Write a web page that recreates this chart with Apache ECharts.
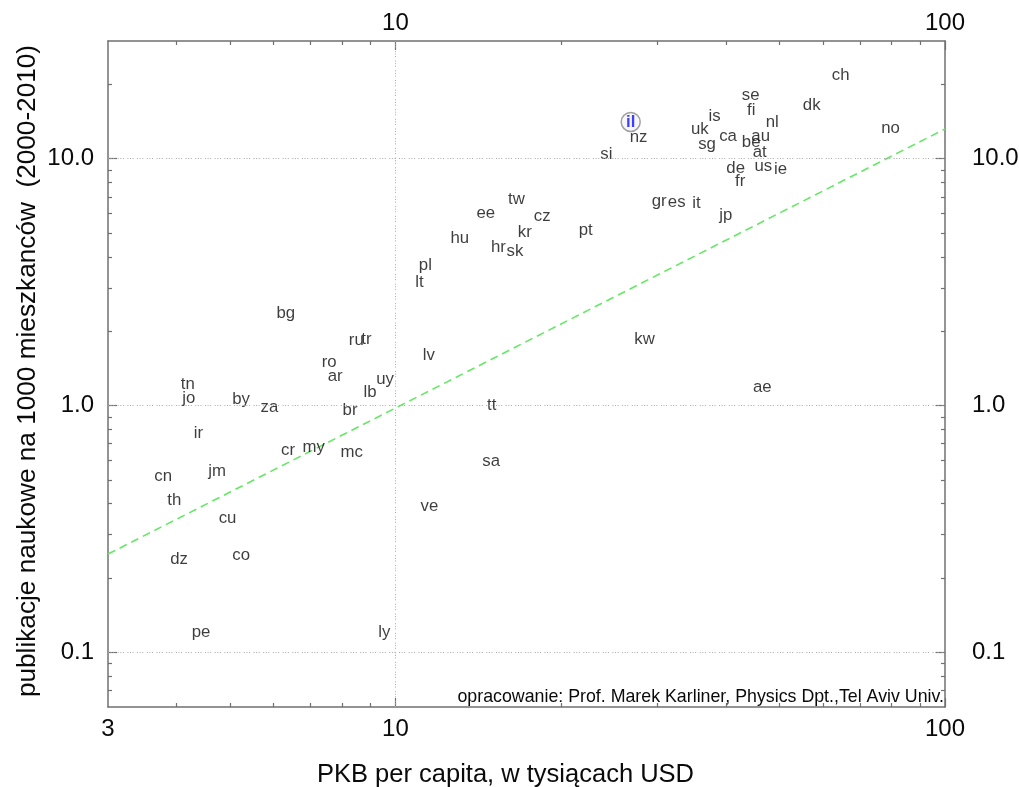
<!DOCTYPE html>
<html><head><meta charset="utf-8">
<script src="https://cdn.jsdelivr.net/npm/echarts@6/dist/echarts.min.js"></script>
<style>html,body{margin:0;padding:0;background:#fff}#c{width:1019px;height:787px}</style>
</head><body><div id="c"></div>
<script>
// ---- data ----
const countries = ['ch','se','fi','dk','is','nl','no','uk','ca','au','be','nz','sg','at','si','de','us','ie','fr','gr','es','it','jp','tw','cz','kr','pt','sk','ee','hu','hr','pl','lt','bg','ru','tr','lv','ro','ar','uy','lb','tn','jo','by','za','br','tt','ir','cr','my','mc','sa','cn','jm','th','ve','cu','dz','co','pe','ly','kw','ae'];
const gdp  = [64.6,44.3,44.4,57.2,38.1,48.5,79.6,35.8,40.3,46.2,44.4,27.7,36.9,46.0,24.2,41.6,46.7,50.2,42.4,30.2,32.5,35.3,39.9,16.6,18.5,17.2,22.2,16.5,14.6,13.1,15.4,11.34,11.06,6.32,8.49,8.86,11.5,7.58,7.77,9.58,8.99,4.19,4.21,5.24,5.90,8.27,14.97,4.38,6.38,7.10,8.33,14.94,3.78,4.74,3.96,11.53,4.95,4.04,5.24,4.43,9.55,28.4,46.5];
const pubs = [21.7,18.1,15.7,16.5,14.8,14.1,13.3,13.2,12.3,12.3,11.7,12.2,11.4,10.6,10.4,9.15,9.3,9.03,8.11,6.69,6.65,6.61,5.89,6.82,5.82,5.01,5.11,4.21,6.0,4.77,4.37,3.69,3.16,2.37,1.84,1.85,1.60,1.49,1.31,1.28,1.13,1.22,1.07,1.06,0.987,0.957,1.0,0.77,0.66,0.677,0.643,0.592,0.518,0.539,0.414,0.389,0.349,0.239,0.248,0.120,0.120,1.85,1.18];
const highlightCountry = ['il'];
const highlightGdp = [26.8];
const highlightPubs = [14.1];
const trendGdp = [3, 100];
const trendPubs = [0.25, 13.2];
// axes
const xRange = [3, 100];
const yRange = [0.06, 30];
const xLabelsBottom = [3, 10, 100];
const xLabelsTop = [10, 100];
const xMajorTicks = [10, 100];
const xMinorTicks = [4,5,6,7,8,9,20,30,40,50,60,70,80,90];
const yLabels = [0.1, 1, 10];
const yMajorTicks = [0.1, 1, 10];
const yMinorTicks = [0.07,0.08,0.09,0.2,0.3,0.4,0.5,0.6,0.7,0.8,0.9,2,3,4,5,6,7,8,9,20];
const gridX = [10];
const gridY = [0.1, 1, 10];
const xTitle = 'PKB per capita, w tysiącach USD';
const yTitle = 'publikacje naukowe na 1000 mieszkanców  (2000-2010)';
const credit = 'opracowanie: Prof. Marek Karliner, Physics Dpt.,Tel Aviv Univ.';

const FONT = '"Liberation Sans", Arial, Helvetica, sans-serif';
const AXC = '#707070';

function axis(pos, range, ticks, tickLen, labels, showLine, fmt, margin, extra) {
  const a = {
    type: 'log', logBase: 10, position: pos, min: range[0], max: range[1],
    nameMoveOverlap: false,
    axisLine: { show: showLine, onZero: false, lineStyle: { color: AXC, width: 1.5 } },
    axisTick: { show: true, inside: true, length: tickLen, customValues: ticks,
                lineStyle: { color: AXC, width: 1.2 } },
    axisLabel: labels ? { show: true, customValues: labels, formatter: fmt, margin: margin,
                fontSize: 24, color: '#0a0a0a', fontFamily: FONT } : { show: false },
    splitLine: { show: false }, minorTick: { show: false }
  };
  return Object.assign(a, extra || {});
}
const fx = v => String(Math.round(v));
const fy = v => (Math.round(v * 10) / 10).toFixed(1);

const option = {
  animation: false,
  backgroundColor: '#fff',
  grid: { left: 108, right: 74, top: 41, bottom: 80, containLabel: false, outerBoundsMode: 'none' },
  title: { text: credit, right: 75, bottom: 81, padding: 0,
           textStyle: { fontSize: 17.8, fontWeight: 'normal', color: '#0a0a0a', fontFamily: FONT } },
  xAxis: [
    axis('bottom', xRange, xMajorTicks, 9, xLabelsBottom, true, fx, 10,
      { name: xTitle, nameLocation: 'middle', nameGap: 55,
        nameTextStyle: { fontSize: 25.5, color: '#0a0a0a', fontFamily: FONT, padding: [0, 42, 0, 0] } }),
    axis('bottom', xRange, xMinorTicks, 4, null, false),
    axis('top', xRange, xMajorTicks, 9, xLabelsTop, true, fx, 6),
    axis('top', xRange, xMinorTicks, 4, null, false)
  ],
  yAxis: [
    axis('left', yRange, yMajorTicks, 9, yLabels, true, fy, 14,
      { name: yTitle, nameLocation: 'middle', nameGap: 67, nameRotate: 90,
        nameTextStyle: { fontSize: 26.2, color: '#0a0a0a', fontFamily: FONT, padding: [0, 0, 0, 6] } }),
    axis('left', yRange, yMinorTicks, 4, null, false),
    axis('right', yRange, yMajorTicks, 9, yLabels, true, fy, 27),
    axis('right', yRange, yMinorTicks, 4, null, false)
  ],
  series: [
    {
      type: 'line', xAxisIndex: 0, yAxisIndex: 0, silent: true,
      data: trendGdp.map((g, i) => [g, trendPubs[i]]),
      symbol: 'none',
      lineStyle: { color: '#66e866', width: 1.6, type: [8, 5] },
      markLine: {
        silent: true, symbol: 'none', label: { show: false },
        lineStyle: { color: '#a8a8a8', width: 1, type: [1, 1.6, 1, 1.6, 1, 3.5] },
        data: gridY.map(v => ({ yAxis: v })).concat(gridX.map(v => ({ xAxis: v })))
      },
      z: 1
    },
    {
      type: 'scatter', xAxisIndex: 0, yAxisIndex: 0,
      data: countries.map((c, i) => [gdp[i], pubs[i], c]),
      symbol: 'circle', symbolSize: 1,
      itemStyle: { color: 'rgba(0,0,0,0)' },
      label: { show: true, position: 'inside', formatter: p => p.data[2],
               fontSize: 16.8, color: '#0d0d0d', fontFamily: FONT },
      z: 3
    },
    {
      type: 'scatter', xAxisIndex: 0, yAxisIndex: 0,
      data: highlightCountry.map((c, i) => [highlightGdp[i], highlightPubs[i], c]),
      symbol: 'circle', symbolSize: 19,
      itemStyle: { color: '#f4f4fa', borderColor: '#8a8a8a', borderWidth: 1.5 },
      label: { show: true, position: 'inside', formatter: p => p.data[2],
               fontSize: 16.8, fontWeight: 'bold', color: '#1010ff', fontFamily: FONT },
      z: 4
    }
  ]
};
const chart = echarts.init(document.getElementById('c'), null, { renderer: 'canvas' });
chart.setOption(option);
</script>
</body></html>
